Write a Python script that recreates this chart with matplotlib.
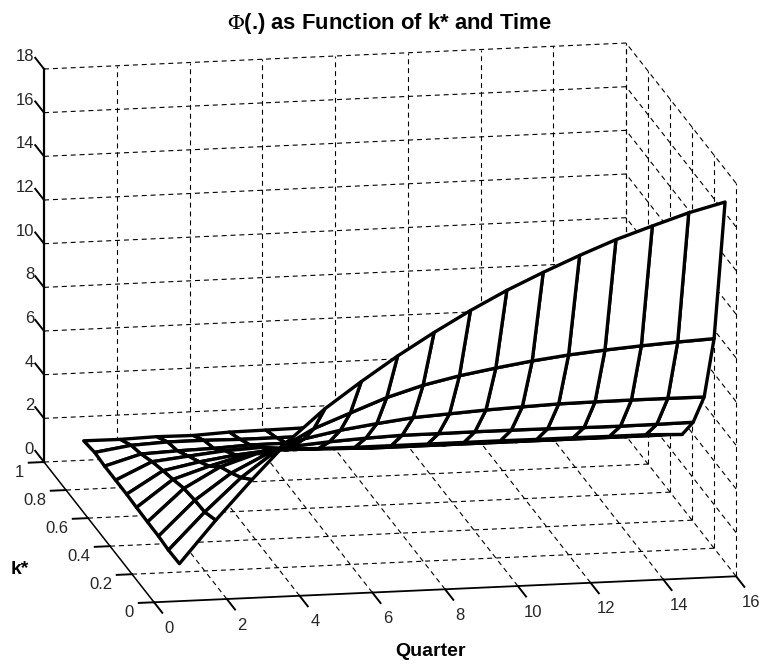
import numpy as np
import matplotlib
matplotlib.use("Agg")
import matplotlib.pyplot as plt
from mpl_toolkits.mplot3d import proj3d

plt.rcParams["font.family"] = ["Liberation Sans", "DejaVu Sans"]
plt.rcParams["mathtext.fontset"] = "stix"

# values
quarters = np.arange(1, 17)
k_star = [0.10, 0.20, 0.29, 0.39, 0.49, 0.58, 0.68, 0.78, 0.87, 0.97]
phi_k0 = [1.05, 2.97, 4.76, 6.45, 7.85, 9.02, 10.12, 11.12, 12.05, 12.90, 13.65, 14.35, 15.00, 15.55, 16.08, 16.50]
phi_k1 = [1.03, 2.70, 4.20, 5.40, 6.30, 6.94, 7.57, 8.06, 8.42, 8.70, 8.95, 9.15, 9.30, 9.42, 9.52, 9.60]
phi_k2 = [1.09, 2.66, 3.83, 4.65, 5.25, 5.57, 5.80, 6.00, 6.10, 6.20, 6.27, 6.33, 6.35, 6.36, 6.36, 6.35]
phi_k3 = [1.10, 2.56, 3.47, 4.00, 4.27, 4.40, 4.49, 4.55, 4.55, 4.56, 4.56, 4.55, 4.53, 4.52, 4.53, 4.55]
phi_k4 = [1.12, 2.33, 2.86, 3.30, 3.50, 3.45, 3.43, 3.43, 3.43, 3.43, 3.43, 3.42, 3.42, 3.41, 3.41, 3.35]
phi_k5 = [1.15, 2.15, 2.48, 2.72, 2.87, 2.85, 2.85, 2.83, 2.80, 2.80, 2.80, 2.80, 2.80, 2.80, 2.80, 2.80]
phi_k6 = [1.15, 1.92, 2.10, 2.27, 2.35, 2.20, 2.15, 2.10, 2.10, 2.10, 2.10, 2.10, 2.10, 2.10, 2.10, 2.10]
phi_k7 = [1.15, 1.63, 1.70, 1.74, 1.82, 1.83, 1.75, 1.70, 1.65, 1.60, 1.60, 1.60, 1.60, 1.60, 1.60, 1.60]
phi_k8 = [1.20, 1.45, 1.53, 1.53, 1.50, 1.50, 1.50, 1.45, 1.40, 1.40, 1.35, 1.35, 1.30, 1.30, 1.30, 1.30]
phi_k9 = [1.09, 1.08, 1.13, 1.11, 1.19, 1.21, 1.23, 1.20, 1.20, 1.15, 1.15, 1.10, 1.10, 1.10, 1.05, 1.05]

x_ticks = [0, 2, 4, 6, 8, 10, 12, 14, 16]
y_ticks = [0, 0.2, 0.4, 0.6, 0.8, 1]
y_labels = ["0", "0.2", "0.4", "0.6", "0.8", "1"]
z_ticks = [0, 2, 4, 6, 8, 10, 12, 14, 16, 18]

phi = np.array([phi_k0, phi_k1, phi_k2, phi_k3, phi_k4, phi_k5, phi_k6, phi_k7, phi_k8, phi_k9])
X, Y = np.meshgrid(quarters, k_star)

fig = plt.figure(figsize=(7.68, 6.65), dpi=100)
ax = fig.add_axes([-75.5 / 768, -123.2 / 665, 906.6 / 768, 906.6 / 665],
                  projection="3d", proj_type="ortho", computed_zorder=False)
ax.view_init(elev=13.8, azim=-100.6)
ax.set_xlim(0, 16, view_margin=0)
ax.set_ylim(0, 1, view_margin=0)
ax.set_zlim(0, 18, view_margin=0)
ax.set_box_aspect((592, 598, 404.6))
ax.set_axis_off()


def tick_label(x, y, z, s, **kw):
    # flat text placed at the projected position of a 3d point
    xp, yp, _ = proj3d.proj_transform(x, y, z, ax.get_proj())
    ax.text2D(xp, yp, s, transform=ax.transData, va="center", fontsize=12, color="#262626", **kw)


grid = dict(color="black", lw=0.8, ls=(0, (4.5, 3.5)), zorder=1)

# floor
for x in x_ticks[1:]:
    ax.plot([x, x], [0, 1], [0, 0], **grid)
for y in y_ticks[1:]:
    ax.plot([0, 16], [y, y], [0, 0], **grid)
# back wall (k*=1)
for x in x_ticks[1:]:
    ax.plot([x, x], [1, 1], [0, 18], **grid)
for z in z_ticks[1:]:
    ax.plot([0, 16], [1, 1], [z, z], **grid)
# side wall (quarter=16)
for y in y_ticks:
    ax.plot([16, 16], [y, y], [0, 18], **grid)
for z in z_ticks[1:]:
    ax.plot([16, 16], [0, 1], [z, z], **grid)

# axis lines
ax.plot([0, 16], [0, 0], [0, 0], color="black", lw=1.3, zorder=1.5)
ax.plot([0, 0], [0, 1], [0, 0], color="black", lw=1.1, zorder=1.5)
ax.plot([0, 0], [1, 1], [0, 18], color="black", lw=1.6, zorder=1.5)

# ticks
for x in x_ticks:
    ax.plot([x, x], [0, -0.075], [0, 0], color="black", lw=1.4, zorder=1.5)
    tick_label(x - 0.14, -0.185, 0, str(x), ha="center")
for y, lab in zip(y_ticks, y_labels):
    ax.plot([0, -0.42], [y, y], [0, 0], color="black", lw=1.4, zorder=1.5)
    tick_label(-0.55, y, -0.42, lab, ha="right")
for z in z_ticks:
    ax.plot([0, 0], [1, 1.08], [z, z], color="black", lw=1.4, zorder=1.5)
    tick_label(0, 1.09, z, str(z), ha="right")

ax.plot_surface(X, Y, phi, rstride=1, cstride=1, color="white", edgecolor="black",
                linewidth=2.4, shade=False, antialiased=True, zorder=2)

fig.text(389 / 768, 1 - 23 / 665, r"$\Phi$(.) as Function of k* and Time", ha="center", va="center",
         fontsize=15.8, fontweight="bold")
fig.text(431 / 768, 1 - 651 / 665, "Quarter", ha="center", va="center", fontsize=14, fontweight="bold")
fig.text(20 / 768, 1 - 569 / 665, "k*", ha="center", va="center", fontsize=14, fontweight="bold")

fig.savefig("out.png", dpi=100)
